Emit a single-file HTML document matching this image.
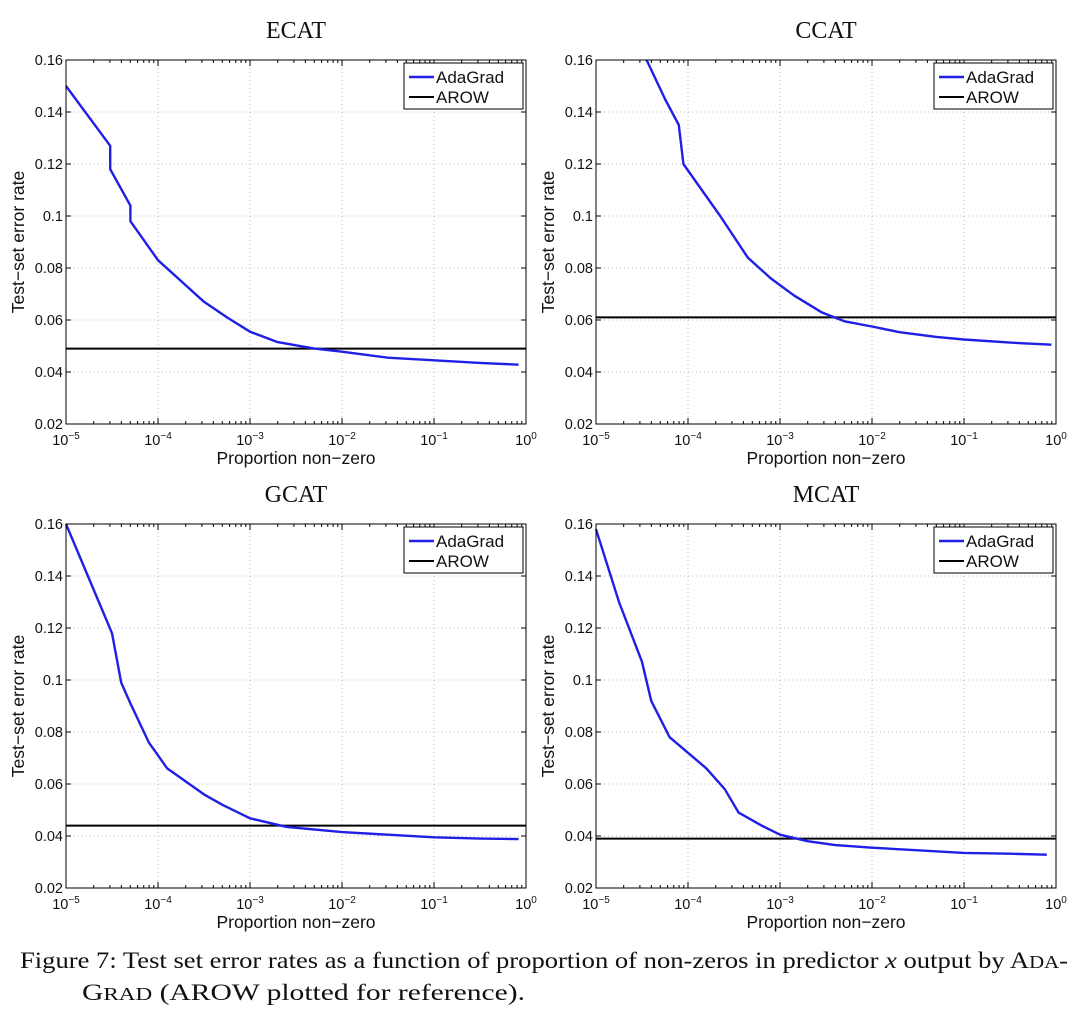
<!DOCTYPE html>
<html><head><meta charset="utf-8"><style>
body{margin:0;background:#fff;}
svg{display:block;}
</style></head><body>
<svg id="fig" width="1080" height="1012" xmlns="http://www.w3.org/2000/svg" font-family="Liberation Sans, sans-serif">
<g font-family="Liberation Serif, serif" font-size="23" fill="#111">
<text x="20" y="968" textLength="1048" lengthAdjust="spacingAndGlyphs">Figure 7:  Test set error rates as a function of proportion of non-zeros in predictor <tspan font-style="italic">x</tspan> output by A<tspan font-size="18">DA</tspan>-</text>
<text x="82" y="1000" textLength="443" lengthAdjust="spacingAndGlyphs">G<tspan font-size="18">RAD</tspan> (AROW plotted for reference).</text>
</g>
</svg>
<script>
const titles = ["ECAT","CCAT","GCAT","MCAT"];
const yTicks = [0.02,0.04,0.06,0.08,0.1,0.12,0.14,0.16];
const yTickLabels = ["0.02","0.04","0.06","0.08","0.1","0.12","0.14","0.16"];
const xDecades = [-5,-4,-3,-2,-1,0];
const arowValues = [0.049,0.061,0.044,0.039];
const ecatX = [-5,-4.52,-4.52,-4.3,-4.3,-4.1,-4,-3.75,-3.5,-3.25,-3,-2.7,-2.3,-2,-1.5,-1,-0.5,-0.08];
const ecatY = [0.150,0.127,0.118,0.104,0.098,0.088,0.083,0.075,0.067,0.061,0.0555,0.0515,0.049,0.0478,0.0455,0.0445,0.0435,0.0428];
const ccatX = [-4.45,-4.25,-4.1,-4.05,-3.85,-3.65,-3.35,-3.1,-2.85,-2.55,-2.3,-2,-1.7,-1.3,-1,-0.5,-0.05];
const ccatY = [0.16,0.145,0.135,0.12,0.11,0.1,0.084,0.076,0.0695,0.063,0.0595,0.0575,0.0553,0.0535,0.0525,0.0513,0.0505];
const gcatX = [-5,-4.75,-4.5,-4.4,-4.3,-4.1,-3.9,-3.7,-3.5,-3.3,-3,-2.6,-2,-1.5,-1,-0.5,-0.08];
const gcatY = [0.16,0.139,0.118,0.099,0.091,0.076,0.066,0.061,0.056,0.052,0.0468,0.0435,0.0415,0.0405,0.0395,0.039,0.0388];
const mcatX = [-5,-4.75,-4.5,-4.4,-4.2,-4,-3.8,-3.6,-3.45,-3.2,-3,-2.7,-2.4,-2,-1.5,-1,-0.5,-0.1];
const mcatY = [0.158,0.13,0.107,0.092,0.078,0.072,0.066,0.058,0.049,0.044,0.0405,0.038,0.0365,0.0355,0.0345,0.0335,0.0332,0.0328];
const seriesX = [ecatX,ccatX,gcatX,mcatX];
const seriesY = [ecatY,ccatY,gcatY,mcatY];

const NS="http://www.w3.org/2000/svg";
const svg=document.getElementById('fig');
function mk(tag,attrs,parent){const e=document.createElementNS(NS,tag);for(const k in attrs)e.setAttribute(k,attrs[k]);parent.appendChild(e);return e;}
const panels=[{l:66,t:60},{l:596,t:60},{l:66,t:524},{l:596,t:524}];
const W=460,H=364;
panels.forEach((p,i)=>{
  const g=mk('g',{},svg);
  
  
  const xs=v=>p.l+(v-(-5))/5*W;
  const ys=v=>p.t+H-(v-0.02)/0.14*H;
  const title=mk('text',{x:p.l+W/2,y:p.t-22,'text-anchor':'middle','font-family':'Liberation Serif, serif','font-size':'24',fill:'#111'},g);
  title.textContent=titles[i];
  
  
  xDecades.slice(1,-1).forEach(d=>{const l=mk('line',{x1:xs(d),x2:xs(d),y1:p.t,y2:p.t+H,stroke:'#bbb','stroke-dasharray':'1,3'},g);
    });
  yTicks.slice(1,-1).forEach(v=>{const l=mk('line',{x1:p.l,x2:p.l+W,y1:ys(v),y2:ys(v),stroke:'#bbb','stroke-dasharray':'1,3'},g);
    });
  yTicks.forEach((v,k)=>{
    mk('line',{x1:p.l,x2:p.l+5,y1:ys(v),y2:ys(v),stroke:'#000'},g);
    mk('line',{x1:p.l+W,x2:p.l+W-5,y1:ys(v),y2:ys(v),stroke:'#000'},g);
    const t=mk('text',{x:p.l-3,y:ys(v)+5,'text-anchor':'end','font-size':'14.5',fill:'#111'},g);
    t.textContent=yTickLabels[k];
    
  });
  xDecades.forEach(d=>{
    mk('line',{x1:xs(d),x2:xs(d),y1:p.t+H,y2:p.t+H-6,stroke:'#000'},g);
    mk('line',{x1:xs(d),x2:xs(d),y1:p.t,y2:p.t+6,stroke:'#000'},g);
    if(d<0)for(let m=2;m<10;m++){const xx=xs(d+Math.log10(m));
      mk('line',{x1:xx,x2:xx,y1:p.t+H,y2:p.t+H-3,stroke:'#000'},g);
      mk('line',{x1:xx,x2:xx,y1:p.t,y2:p.t+3,stroke:'#000'},g);}
    const t=mk('text',{x:xs(d),y:p.t+H+21,'text-anchor':'middle','font-size':'14.5',fill:'#111'},g);
    t.textContent='10';
    const s=mk('tspan',{dy:'-6','font-size':'10'},t);s.textContent=String(d).replace('-','\u2212');
    
  });
  const a=mk('line',{x1:p.l,x2:p.l+W,y1:ys(arowValues[i]),y2:ys(arowValues[i]),stroke:'#000','stroke-width':'2'},g);
  
  const pts=seriesX[i].map((x,k)=>xs(x).toFixed(1)+','+ys(seriesY[i][k]).toFixed(1)).join(' ');
  const pl=mk('polyline',{points:pts,fill:'none',stroke:'#1f1fe6','stroke-width':'2.4','stroke-linejoin':'round'},g);
  
  const f=mk('rect',{x:p.l,y:p.t,width:W,height:H,fill:'none',stroke:'#000','stroke-width':'1'},g);
  
  const lg=mk('g',{},g);
  
  const lx=p.l+W-122,ly=p.t+3;
  mk('rect',{x:lx,y:ly,width:119,height:46,fill:'#fff',stroke:'#000'},lg);
  mk('line',{x1:lx+5,x2:lx+30,y1:ly+14,y2:ly+14,stroke:'#1f1fe6','stroke-width':'2.4'},lg);
  mk('line',{x1:lx+5,x2:lx+30,y1:ly+34,y2:ly+34,stroke:'#000','stroke-width':'2'},lg);
  const t1=mk('text',{x:lx+32,y:ly+20,'font-size':'17',fill:'#111'},lg);t1.textContent='AdaGrad';
  
  const t2=mk('text',{x:lx+32,y:ly+40,'font-size':'17',fill:'#111'},lg);t2.textContent='AROW';
  
  const xl=mk('text',{x:p.l+W/2,y:p.t+H+40,'text-anchor':'middle','font-size':'17.5',fill:'#111'},g);
  xl.textContent='Proportion non\u2212zero';
  
  const yx=p.l-42,yy=p.t+H/2;
  const yl=mk('text',{x:yx,y:yy,'text-anchor':'middle','font-size':'17.5',fill:'#111',transform:`rotate(-90 ${yx} ${yy})`},g);
  yl.textContent='Test\u2212set error rate';
  
});
</script>
</body></html>
